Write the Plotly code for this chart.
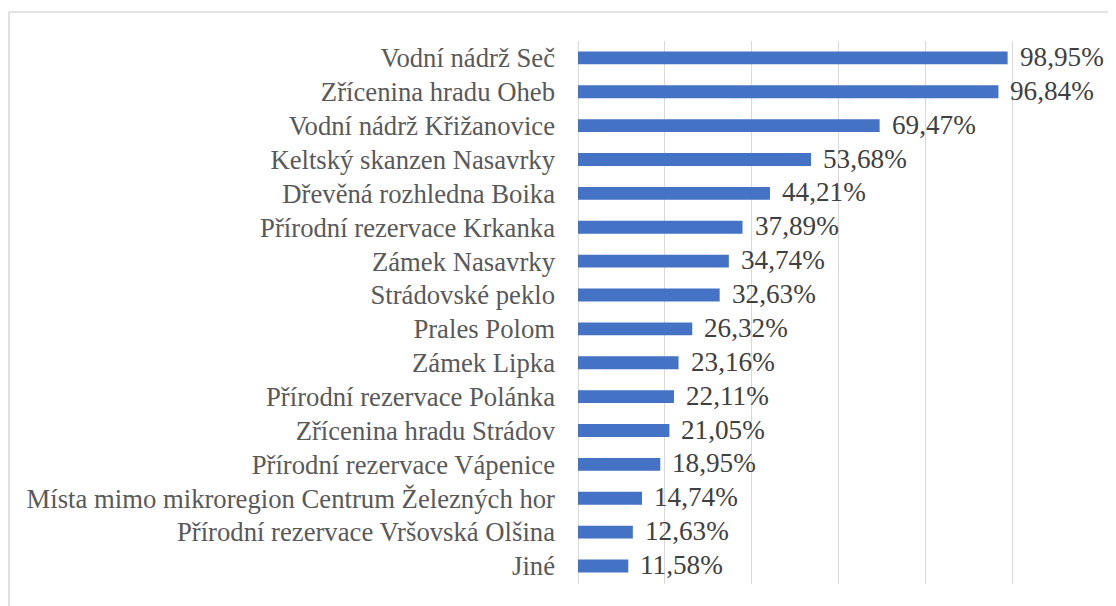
import plotly.graph_objects as go

categories = [
    "Vodní nádrž Seč",
    "Zřícenina hradu Oheb",
    "Vodní nádrž Křižanovice",
    "Keltský skanzen Nasavrky",
    "Dřevěná rozhledna Boika",
    "Přírodní rezervace Krkanka",
    "Zámek Nasavrky",
    "Strádovské peklo",
    "Prales Polom",
    "Zámek Lipka",
    "Přírodní rezervace Polánka",
    "Zřícenina hradu Strádov",
    "Přírodní rezervace Vápenice",
    "Místa mimo mikroregion Centrum Železných hor",
    "Přírodní rezervace Vršovská Olšina",
    "Jiné",
]
values = [98.95, 96.84, 69.47, 53.68, 44.21, 37.89, 34.74, 32.63,
          26.32, 23.16, 22.11, 21.05, 18.95, 14.74, 12.63, 11.58]
labels = [f"{v:.2f}%".replace(".", ",") for v in values]

# page has an 8px body offset
OFF = 8
W, H = 1116 - OFF, 606 - OFF
L, R, T, B = 578 - OFF, 1099 - OFF, 41 - OFF, 584 - OFF
FONT = "Liberation Serif"
FS = 26.7
FS_LBL = 27.2

fig = go.Figure()
fig.add_trace(go.Bar(
    y=categories, x=[v / 100 for v in values], orientation="h",
    marker=dict(color="#4472c4", line=dict(width=0)),
    width=0.38, hoverinfo="skip",
))
for c, v, t in zip(categories, values, labels):
    fig.add_annotation(x=v / 100, y=c, text=t, xanchor="left", yanchor="middle",
                       xshift=10, yshift=1, showarrow=False,
                       font=dict(family=FONT, size=FS_LBL, color="#404040"))

pw, ph = R - L, B - T
fig.add_shape(type="rect", xref="paper", yref="paper",
              x0=(9 - OFF - L) / pw, x1=(W + 5 - L) / pw,
              y0=(B - (H + 5)) / ph, y1=(B - (12 - OFF)) / ph,
              line=dict(color="#d9d9d9", width=1.5), fillcolor="rgba(0,0,0,0)", layer="below")

fig.update_layout(
    width=W, height=H,
    margin=dict(l=L, r=W - R, t=T, b=H - B, pad=0),
    paper_bgcolor="white", plot_bgcolor="white",
    showlegend=False,
    font=dict(family=FONT, size=FS, color="#595959"),
    xaxis=dict(range=[0, 1.2], dtick=0.2, tick0=0, showticklabels=False,
               showgrid=True, gridcolor="#d9d9d9", gridwidth=1.3,
               zeroline=True, zerolinecolor="#d9d9d9", zerolinewidth=1.3,
               showline=False, ticks="", fixedrange=True),
    yaxis=dict(autorange="reversed", showgrid=False, ticks="", showline=False,
               ticklabelstandoff=22, tickfont=dict(family=FONT, size=FS, color="#595959")),
)

fig.write_html("out.html")
